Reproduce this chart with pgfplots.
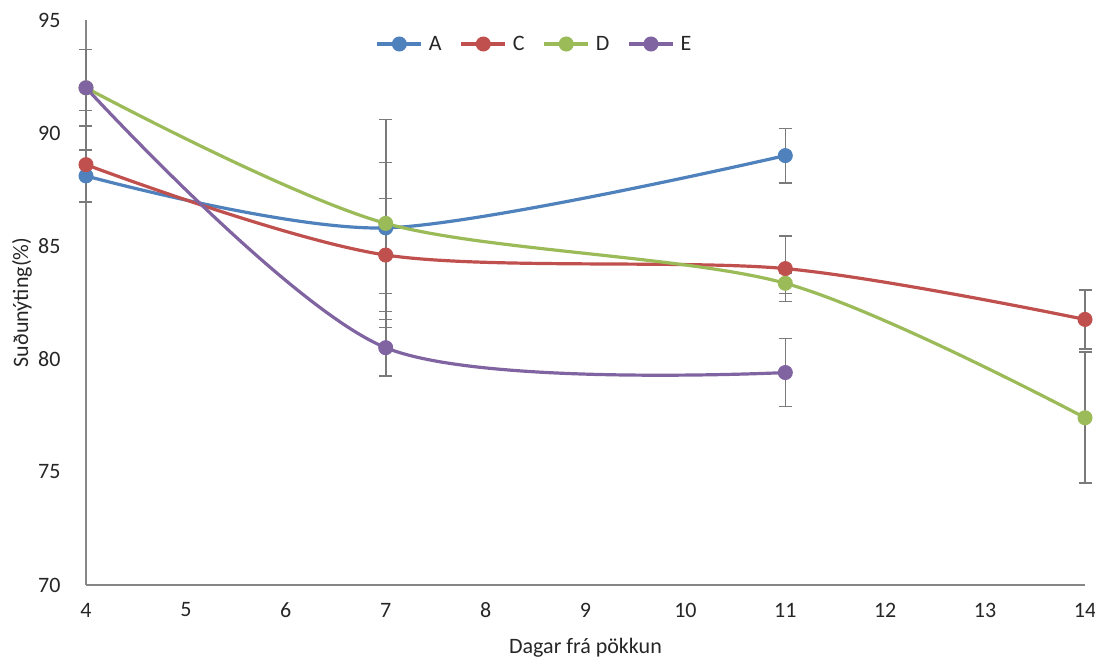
\documentclass[border=0pt]{standalone}
\usepackage{pgfplots}
\pgfplotsset{compat=1.18}
\usepackage{fontspec}
\setmainfont{Carlito}
\definecolor{cA}{HTML}{4F81BD}
\definecolor{cC}{HTML}{C0504D}
\definecolor{cD}{HTML}{9BBB59}
\definecolor{cE}{HTML}{8064A2}
\definecolor{axgray}{HTML}{868686}
\definecolor{errgray}{HTML}{7A7A7A}
\pgfplotsset{myerr/.style={error bars/.cd, y dir=both, y explicit,
    error bar style={errgray, line width=1.6pt},
    error mark options={errgray, rotate=90, mark size=6.5pt, line width=1.6pt}}}
\begin{document}
\begin{tikzpicture}
\begin{axis}[
  at={(0,0)}, anchor=south west,
  scale only axis, width=999pt, height=565pt,
  xmin=4, xmax=14, ymin=70, ymax=95,
  xtick={4,5,...,14}, ytick={70,75,...,95},
  axis x line*=bottom, axis y line*=left,
  axis line style={axgray, line width=1.5pt, -},
  major tick length=0pt,
  clip=false,
  font=\fontsize{22}{26}\selectfont,
  /pgf/number format/assume math mode=true,
  yticklabel style={anchor=east, xshift=-22pt, text=black!85},
  xticklabel style={anchor=center, yshift=-25pt, text=black!85},
  xlabel={Dagar frá pökkun},
  ylabel={Suðunýting(\%)},
  every axis x label/.style={at={(axis description cs:0.5,0)}, anchor=center, yshift=-63pt, text=black!85},
  every axis y label/.style={at={(axis description cs:0,0.5)}, xshift=-64pt, rotate=90, anchor=center, text=black!85},
  legend style={draw=none, fill=none, at={(axis description cs:0.449,0.9575)}, anchor=center,
    legend columns=4, font=\fontsize{22}{26}\selectfont, text=black!85,
    nodes={inner sep=2pt},
    /tikz/every odd column/.append style={column sep=4pt},
    /tikz/every even column/.append style={column sep=16pt}},
  legend image code/.code={\draw[#1] (0pt,0pt) -- (44pt,0pt); \path[#1] plot coordinates {(22pt,0pt)};},
  every axis plot/.append style={line width=3.2pt, smooth, tension=0.5, mark=*, mark size=7pt, mark options={solid, line width=1pt}},
]
\addplot[cA, myerr] table[x=x, y=y, y error plus=ep, y error minus=em] {
x y ep em
4 88.1 1.15 1.15
7 85.8 2.9 2.9
11 89.0 1.2 1.2
};
\addlegendentry{A}
\addplot[cC, myerr] table[x=x, y=y, y error plus=ep, y error minus=em] {
x y ep em
4 88.6 2.4 0.0
7 84.6 2.5 2.5
11 84.0 1.45 1.45
14 81.75 1.3 1.3
};
\addlegendentry{C}
\addplot[cD, myerr] table[x=x, y=y, y error plus=ep, y error minus=em] {
x y ep em
4 92.0 1.7 1.7
7 86.0 4.6 4.6
11 83.35 0.45 0.45
14 77.4 2.9 2.9
};
\addlegendentry{D}
\addplot[cE, myerr] table[x=x, y=y, y error plus=ep, y error minus=em] {
x y ep em
4 92.0 0 0
7 80.5 1.25 1.25
11 79.4 1.5 1.5
};
\addlegendentry{E}
\end{axis}
\pgfresetboundingbox
\path[use as bounding box] (-86pt,-78pt) rectangle (1009pt,585pt);
\end{tikzpicture}
\end{document}
